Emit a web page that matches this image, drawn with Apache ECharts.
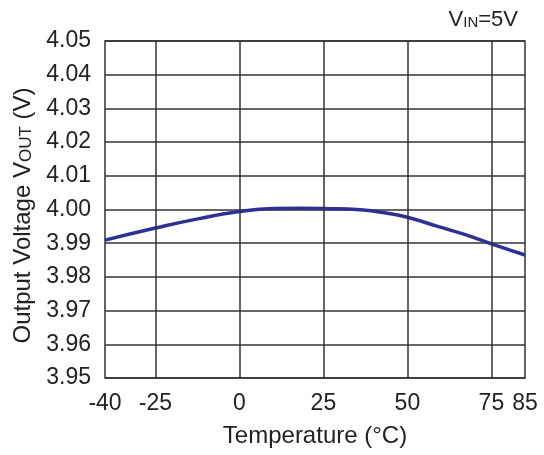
<!DOCTYPE html>
<html><head><meta charset="utf-8">
<script src="https://cdn.jsdelivr.net/npm/echarts@6/dist/echarts.min.js"></script>
<style>html,body{margin:0;padding:0;background:#fff}#c{width:544px;height:455px}</style>
</head><body><div id="c"></div>
<script>
const temps = [-40, -25, -12, 0, 10, 18, 25, 36, 44, 50, 59, 67, 75, 85];
const vout  = [3.9909, 3.9945, 3.9973, 3.9994, 4.0003, 4.0004, 4.0003, 3.9999, 3.9989, 3.9977, 3.9950, 3.9926, 3.9898, 3.9865];
const xTickLabels = [-40, -25, 0, 25, 50, 75, 85];
const xGridLines = [-25, 0, 25, 50, 75];

const FONT = '"Liberation Sans", Arial, sans-serif';
const gridColor = '#333333';
const chart = echarts.init(document.getElementById('c'), null, {renderer: 'canvas'});
chart.setOption({
  animation: false,
  backgroundColor: '#ffffff',
  title: {
    text: '{a|V}{b|IN}{a|=5V}',
    right: 21, top: 4,
    textStyle: {
      fontWeight: 'normal',
      rich: {
        a: {fontFamily: FONT, fontSize: 22, fontWeight: 'normal', color: '#222', verticalAlign: 'bottom'},
        b: {fontFamily: FONT, fontSize: 15, fontWeight: 'normal', color: '#222', verticalAlign: 'bottom', padding: [0, 0, 1, 0]}
      }
    }
  },
  grid: {left: 105, right: 19, top: 41, bottom: 77, show: true, borderColor: gridColor, borderWidth: 1.5, containLabel: false},
  xAxis: {
    type: 'value', min: -40, max: 85,
    name: 'Temperature (°C)', nameLocation: 'middle', nameGap: 46,
    nameTextStyle: {fontFamily: FONT, fontSize: 24, color: '#222'},
    axisLine: {show: false}, axisTick: {show: false},
    splitLine: {show: false},
    axisLabel: {customValues: xTickLabels, fontFamily: FONT, fontSize: 23, color: '#222', margin: 14}
  },
  yAxis: {
    type: 'value', min: 3.95, max: 4.05, interval: 0.01,
    name: '{a|Output Voltage V}{b|OUT}{a| (V)}', nameLocation: 'middle', nameGap: 59,
    nameTextStyle: {
      padding: [0, 12, 0, 0],
      rich: {
        a: {fontFamily: FONT, fontSize: 24, color: '#222', verticalAlign: 'bottom'},
        b: {fontFamily: FONT, fontSize: 17, color: '#222', verticalAlign: 'bottom', padding: [0, 0, 1, 0]}
      }
    },
    axisLine: {show: false}, axisTick: {show: false},
    splitLine: {show: true, lineStyle: {color: gridColor, width: 1.5}},
    axisLabel: {fontFamily: FONT, fontSize: 23, color: '#222', margin: 14, formatter: v => v.toFixed(2)}
  },
  series: [
    {
      type: 'line', data: [], z: 1, silent: true,
      markLine: {
        silent: true, symbol: ['none', 'none'], label: {show: false},
        lineStyle: {color: gridColor, width: 1.5, type: 'solid'},
        data: xGridLines.map(v => ({xAxis: v}))
      }
    },
    {
      type: 'line', z: 3, smooth: 0.5, showSymbol: false,
      data: temps.map((t, i) => [t, vout[i]]),
      lineStyle: {color: '#2e3192', width: 3.5}
    }
  ]
});
</script></body></html>
